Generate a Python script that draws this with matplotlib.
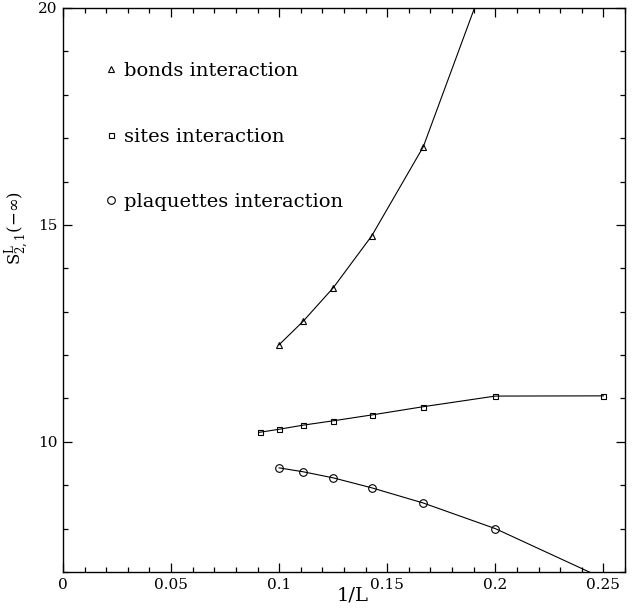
import matplotlib
matplotlib.use('Agg')
import matplotlib.pyplot as plt
from matplotlib.ticker import MultipleLocator

plt.rcParams['font.family'] = 'DejaVu Serif'
plt.rcParams['mathtext.fontset'] = 'dejavuserif'

# data
inv_L_bonds = [1/10, 1/9, 1/8, 1/7, 1/6, 1/5]
bonds = [12.24, 12.78, 13.55, 14.75, 16.80, 21.3]

inv_L_sites = [1/11, 1/10, 1/9, 1/8, 1/7, 1/6, 1/5, 1/4]
sites = [10.22, 10.29, 10.385, 10.485, 10.62, 10.81, 11.055, 11.06]

inv_L_plaq = [1/10, 1/9, 1/8, 1/7, 1/6, 1/5, 1/4]
plaq = [9.40, 9.31, 9.17, 8.94, 8.59, 8.00, 6.85]

fig = plt.figure(figsize=(6.36, 6.14), dpi=100)
ax = fig.add_axes([0.0991, 0.0684, 0.8836, 0.9186])

ax.plot(inv_L_bonds, bonds, color='black', lw=0.8, marker='^', ms=3.8,
        mfc='none', mec='black', mew=0.8, label='bonds interaction')
ax.plot(inv_L_sites, sites, color='black', lw=0.8, marker='s', ms=3.6,
        mfc='none', mec='black', mew=0.8, label='sites interaction')
ax.plot(inv_L_plaq, plaq, color='black', lw=0.8, marker='o', ms=5.5,
        mfc='none', mec='black', mew=0.8, label='plaquettes interaction')

ax.set_xlim(0, 0.26)
ax.set_ylim(7, 20)

ax.xaxis.set_major_locator(MultipleLocator(0.05))
ax.xaxis.set_minor_locator(MultipleLocator(0.01))
ax.yaxis.set_major_locator(MultipleLocator(5))
ax.yaxis.set_minor_locator(MultipleLocator(1))
ax.set_xticks([0, 0.05, 0.1, 0.15, 0.2, 0.25])
ax.set_xticklabels(['0', '0.05', '0.1', '0.15', '0.2', '0.25'])
ax.set_yticks([10, 15, 20])
ax.set_yticklabels(['10', '15', '20'])

ax.tick_params(which='both', direction='in', top=True, right=True,
               labelsize=11, width=0.9)
ax.tick_params(which='major', length=6.5, pad=4)
ax.tick_params(which='minor', length=3.6)
for s in ax.spines.values():
    s.set_linewidth(1.0)

ax.set_xlabel('1/L', fontsize=14)
ax.xaxis.set_label_coords(0.515, -0.026)
ax.set_ylabel(r'$\mathrm{S}^{\mathrm{L}}_{2,1}(-\infty)$', fontsize=12)
ax.yaxis.set_label_coords(-0.055, 0.61)

leg = ax.legend(loc='upper left', bbox_to_anchor=(0.063, 0.918), frameon=False,
                fontsize=14, numpoints=1, handlelength=0.5, handletextpad=0.4,
                labelspacing=2.45, borderaxespad=0)
for h in leg.legend_handles:
    h.set_linestyle('none')

fig.savefig('out.png', dpi=100)
